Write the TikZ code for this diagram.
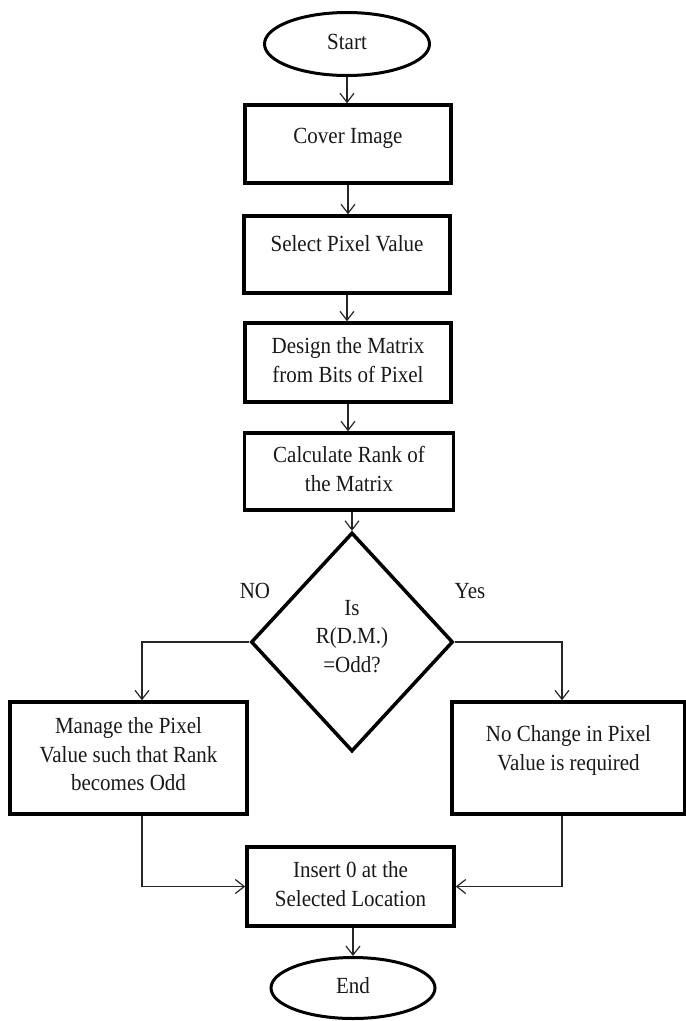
\documentclass[tikz,border=0pt]{standalone}
\usepackage{fontspec}
\setmainfont{Liberation Serif}
\usetikzlibrary{arrows.meta,shapes.geometric}
\newcommand\tx[1]{\scalebox{1}[1.1]{\begin{tabular}{@{}c@{}}#1\end{tabular}}}
\begin{document}
\begin{tikzpicture}[x=1pt,y=-1pt,
  box/.style={draw=black,line width=3.5pt,rectangle,inner sep=0pt},
  oval/.style={draw=black,line width=3pt,ellipse,inner sep=0pt},
  dia/.style={draw=black,line width=3.5pt,diamond,inner sep=0pt},
  txt/.style={font=\fontsize{21}{26}\selectfont,inner sep=0pt,text=black!90},
  conn/.style={draw=black!85,line width=1.2pt,-{Straight Barb[length=9pt,width=14pt,line width=1.2pt]}}
]
\useasboundingbox (0,0) rectangle (686,1021);

\node[oval,txt,minimum width=165pt,minimum height=63pt] (start) at (347,44) {\tx{Start}};

\node[box,minimum width=206pt,minimum height=78pt] (cover) at (348,144) {};
\node[txt] (coverT) at (348,138) {\tx{Cover Image}};

\node[box,minimum width=206pt,minimum height=77pt] (select) at (347,254.5) {};
\node[txt] (selectT) at (347,246) {\tx{Select Pixel Value}};

\node[box,txt,minimum width=206pt,minimum height=79pt] (design) at (348,362.5) {\tx{Design the Matrix\\from Bits of Pixel}};

\node[box,txt,minimum width=209pt,minimum height=77pt] (calc) at (349,471.5) {\tx{Calculate Rank of\\the Matrix}};

\node[dia,minimum width=202pt,minimum height=219pt] (dec) at (352,642) {};
\node[txt] (decT) at (352,638) {\tx{Is\\R(D.M.)\\=Odd?}};

\node[txt] (no) at (255,593) {\tx{NO}};
\node[txt] (yes) at (470,593) {\tx{Yes}};

\node[box,minimum width=237pt,minimum height=112pt] (lbox) at (128.5,758) {};
\node[txt] (lboxT) at (128.5,756.5) {\tx{Manage the Pixel\\Value such that Rank\\becomes Odd}};

\node[box,minimum width=233pt,minimum height=112pt] (rbox) at (568.5,758) {};
\node[txt] (rboxT) at (568.5,750.5) {\tx{No Change in Pixel\\Value is required}};

\node[box,txt,minimum width=207pt,minimum height=79pt] (ins) at (350.5,886.5) {\tx{Insert 0 at the\\Selected Location}};

\node[oval,txt,minimum width=164pt,minimum height=61pt] (end) at (353,988) {\tx{End}};

\draw[conn] (start.south) -- (start.south |- cover.north);
\draw[conn] (cover.south) -- (cover.south |- select.north);
\draw[conn] (select.south) -- (select.south |- design.north);
\draw[conn] (design.south) -- (design.south |- calc.north);
\draw[conn] (calc.south -| dec.north) -- (dec.north);
\draw[conn] (dec.west) -| ([xshift=13.5pt]lbox.north);
\draw[conn] (dec.east) -| ([xshift=-6.5pt]rbox.north);
\draw[conn] ([xshift=13.5pt]lbox.south) |- (ins.west);
\draw[conn] ([xshift=-6.5pt]rbox.south) |- (ins.east);
\draw[conn] (ins.south -| end.north) -- (end.north);
\end{tikzpicture}
\end{document}
